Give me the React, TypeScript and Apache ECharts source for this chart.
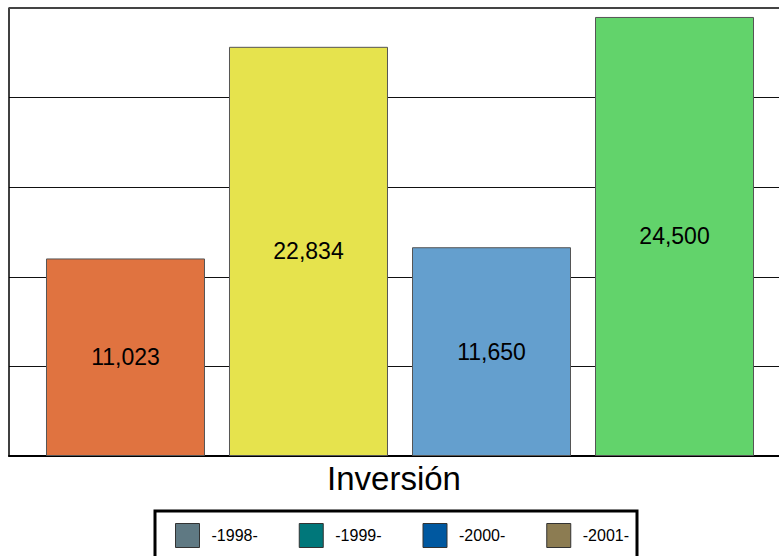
import React, { useEffect, useRef } from "react";
import * as echarts from "echarts";

const categories = ["Inversión"];
const seriesNames = ["-1998-", "-1999-", "-2000-", "-2001-"];
const seriesValues = [11023, 22834, 11650, 24500];
const barColors = ["#e07340", "#e6e34d", "#649fce", "#62d36b"];
const legendColors = ["#5f7983", "#00777a", "#0058a0", "#8c7c52"];

export default function App() {
  const ref = useRef<HTMLDivElement>(null);
  useEffect(() => {
    if (!ref.current) return;
    const chart = echarts.init(ref.current, null, { renderer: "svg" });
    const font = "'Liberation Sans', Arial, sans-serif";
    chart.setOption({
      animation: false,
      backgroundColor: "#ffffff",
      textStyle: { fontFamily: font },
      grid: { left: 9, top: 8, right: 0, bottom: 100, containLabel: false },
      legend: {
        left: 155,
        top: 511,
        orient: "horizontal",
        itemWidth: 24,
        itemHeight: 24,
        itemGap: 41,
        padding: [12, 8, 12, 20],
        borderColor: "#000",
        borderWidth: 3,
        textStyle: { fontSize: 16, color: "#000", fontFamily: font, padding: [0, 0, 0, 7] },
        data: seriesNames.map((n, i) => ({
          name: n,
          icon: "rect",
          itemStyle: { color: legendColors[i], borderColor: "#333", borderWidth: 1 },
        })),
      },
      xAxis: {
        type: "category",
        data: categories,
        axisLine: { show: true, lineStyle: { color: "#000", width: 2 } },
        axisTick: { show: false },
        axisLabel: { fontSize: 33, color: "#000", margin: 6, fontFamily: font, padding: [0, 12, 0, 0] },
      },
      yAxis: {
        type: "value",
        min: 0,
        max: 25000,
        interval: 5000,
        axisLine: { show: true, lineStyle: { color: "#000", width: 1.5 } },
        axisTick: { show: false },
        axisLabel: { show: false },
        splitLine: {
          show: true,
          lineStyle: { color: ["#000", "#111", "#111", "#111", "#111", "#444"], width: 1 },
        },
      },
      series: seriesNames.map((n, i) => ({
        name: n,
        type: "bar",
        data: [seriesValues[i]],
        barWidth: 159,
        barGap: "15.1%",
        itemStyle: { color: barColors[i], borderColor: "#555", borderWidth: 1 },
        label: {
          show: true,
          position: "inside",
          fontSize: 23,
          color: "#000",
          fontFamily: font,
          formatter: (p: any) => Number(p.value).toLocaleString("en-US"),
        },
      })),
      graphic: [
        {
          type: "line",
          shape: { x1: 9, y1: 8, x2: 791, y2: 8 },
          style: { stroke: "#444", lineWidth: 2 },
          z: 100,
        },
      ],
    });
    return () => chart.dispose();
  }, []);
  return (
    <div style={{ position: "fixed", left: 0, top: 0, width: 779, height: 556, overflow: "hidden" }}>
      <div ref={ref} style={{ width: 791, height: 556 }} />
    </div>
  );
}
